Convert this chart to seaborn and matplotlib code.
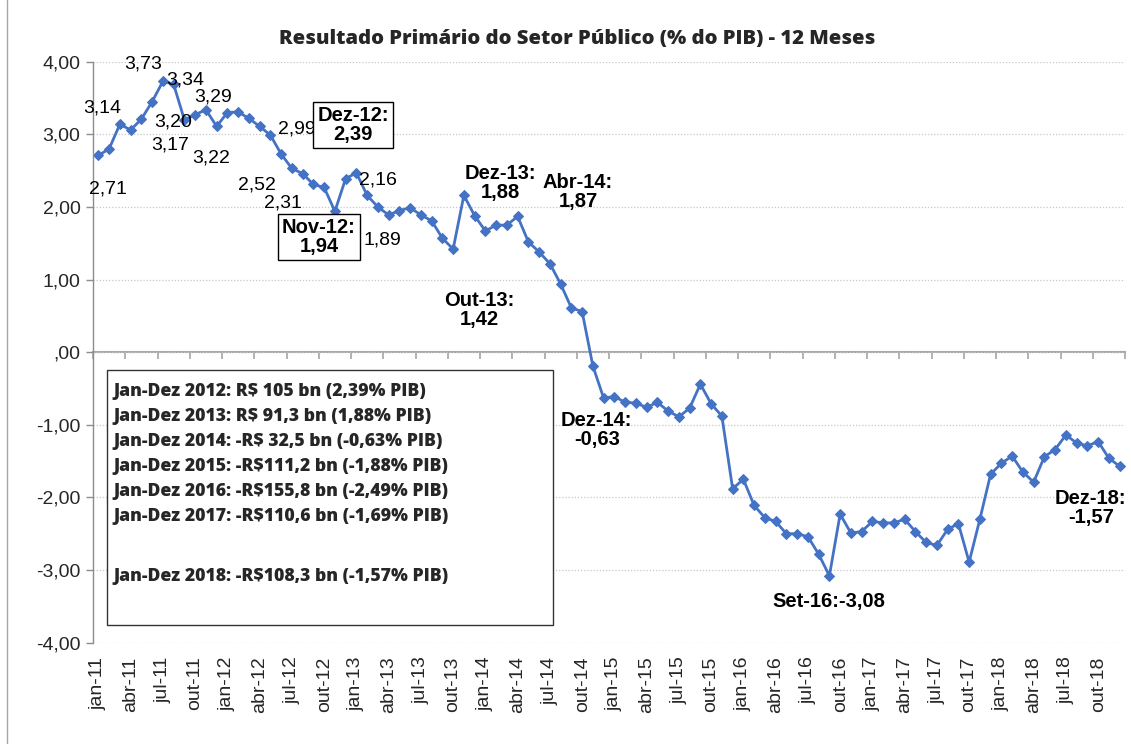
import numpy as np
import pandas as pd
import seaborn as sns
import matplotlib.pyplot as plt
from matplotlib.patches import Rectangle
from matplotlib.lines import Line2D

# ---------------- dados (% do PIB, 12 meses) ----------------
meses = ['jan', 'fev', 'mar', 'abr', 'mai', 'jun', 'jul', 'ago', 'set', 'out', 'nov', 'dez']
anos = ['11', '12', '13', '14', '15', '16', '17', '18']

res_2011 = [2.71, 2.80, 3.14, 3.06, 3.21, 3.45, 3.73, 3.69, 3.20, 3.27, 3.34, 3.11]
res_2012 = [3.30, 3.31, 3.22, 3.11, 2.99, 2.73, 2.53, 2.46, 2.31, 2.27, 1.94, 2.39]
res_2013 = [2.47, 2.16, 2.00, 1.89, 1.95, 1.99, 1.89, 1.81, 1.57, 1.42, 2.16, 1.88]
res_2014 = [1.67, 1.75, 1.75, 1.87, 1.52, 1.38, 1.22, 0.94, 0.61, 0.56, -0.19, -0.63]
res_2015 = [-0.61, -0.69, -0.70, -0.76, -0.69, -0.81, -0.89, -0.77, -0.44, -0.71, -0.88, -1.88]
res_2016 = [-1.75, -2.11, -2.28, -2.33, -2.50, -2.50, -2.54, -2.78, -3.08, -2.23, -2.49, -2.47]
res_2017 = [-2.33, -2.35, -2.35, -2.30, -2.47, -2.62, -2.66, -2.44, -2.36, -2.89, -2.30, -1.68]
res_2018 = [-1.53, -1.43, -1.65, -1.79, -1.44, -1.34, -1.14, -1.25, -1.29, -1.23, -1.46, -1.57]

serie = res_2011 + res_2012 + res_2013 + res_2014 + res_2015 + res_2016 + res_2017 + res_2018
rotulos = [f'{m}-{a}' for a in anos for m in meses]

df = pd.DataFrame({'pos': np.arange(len(serie)), 'mes': rotulos, 'valor': serie})

# rótulos de dados (texto, x, y)
rotulos_normais = [
    ('3,73', 4.18, 3.97), ('3,34', 8.06, 3.75), ('3,14', 0.38, 3.36),
    ('3,20', 6.97, 3.17), ('3,17', 6.66, 2.85), ('3,29', 10.63, 3.52),
    ('3,22', 10.45, 2.68), ('2,99', 18.5, 3.08), ('2,52', 14.73, 2.30),
    ('2,31', 17.15, 2.05), ('2,71', 0.9, 2.25), ('2,16', 26.01, 2.37),
    ('1,89', 26.45, 1.54),
]
rotulos_negrito = [
    ('Dez-13:\n1,88', 37.36, 2.33), ('Abr-14:\n1,87', 44.62, 2.21),
    ('Out-13:\n1,42', 35.4, 0.58), ('Dez-14:\n-0,63', 46.36, -1.07),
    ('Set-16:-3,08', 67.97, -3.43), ('Dez-18:\n-1,57', 92.31, -2.15),
]
rotulos_caixa = [('Nov-12:\n1,94', 20.52, 1.59), ('Dez-12:\n2,39', 23.69, 3.13)]

caixa_linhas = [
    'Jan-Dez 2012: R$ 105 bn (2,39% PIB)',
    'Jan-Dez 2013: R$ 91,3 bn (1,88% PIB)',
    'Jan-Dez 2014: -R$ 32,5 bn (-0,63% PIB)',
    'Jan-Dez 2015: -R$111,2 bn (-1,88% PIB)',
    'Jan-Dez 2016: -R$155,8 bn (-2,49% PIB)',
    'Jan-Dez 2017: -R$110,6 bn (-1,69% PIB)',
    'Jan-Dez 2018: -R$108,3 bn (-1,57% PIB)',
]
caixa_y = [0.4329, 0.3893, 0.3460, 0.3029, 0.2599, 0.2169, 0.1136]

# ---------------- figura ----------------
sns.set_theme(style='white')
plt.rcParams['font.family'] = ['Liberation Sans', 'DejaVu Sans']

fig, ax = plt.subplots(figsize=(11.31, 7.44), dpi=100)
fig.subplots_adjust(left=93 / 1131, right=1125 / 1131, bottom=0.1362, top=0.917)

azul = '#4472C4'
sns.lineplot(data=df, x='pos', y='valor', ax=ax, color=azul, linewidth=2,
             marker='D', markersize=5, markeredgecolor=azul, markerfacecolor=azul)

ax.set_xlim(-0.5, len(serie) - 0.5)
ax.set_ylim(-4, 4)
ax.set_xlabel('')
ax.set_ylabel('')

# eixo y
yt = np.arange(-4, 5, 1)
ax.set_yticks(yt)
ax.set_yticklabels([',00' if v == 0 else f'{v:.2f}'.replace('.', ',') for v in yt], fontsize=14)
ax.yaxis.grid(True, linestyle=(0, (1, 1.5)), color='#c6c6c6', linewidth=0.9)
ax.xaxis.grid(False)
ax.tick_params(axis='y', length=5, color='#8c8c8c', width=1, pad=4, left=True)

# eixo x (rótulos embaixo, traços no zero)
ax.set_xticks(df['pos'][::3])
ax.set_xticklabels(df['mes'][::3], rotation=90, fontsize=14)
ax.tick_params(axis='x', length=0, pad=10)

for s in ['top', 'right', 'bottom']:
    ax.spines[s].set_visible(False)
ax.spines['left'].set_color('#8c8c8c')
ax.spines['left'].set_linewidth(1)

sec = ax.secondary_xaxis(0, transform=ax.transData)
sec.set_xticks(np.arange(-0.5, len(serie), 3))
sec.tick_params(axis='x', direction='out', length=5, width=1.2, color='#a6a6a6', labelbottom=False, labeltop=False)
sec.spines['bottom'].set_color('#a6a6a6')
sec.spines['bottom'].set_linewidth(1.5)
sec.spines['top'].set_color('#a6a6a6')
sec.spines['top'].set_linewidth(1.5)

# título
fig.text(577 / 1131, 0.9476, 'Resultado Primário do Setor Público (% do PIB) - 12 Meses',
         ha='center', va='center', fontsize=14.6, fontweight=800, family=['Open Sans', 'DejaVu Sans'])

# rótulos
for txt, x, y in rotulos_normais:
    ax.text(x, y, txt, ha='center', va='center', fontsize=14, color='black')
for txt, x, y in rotulos_negrito:
    ax.text(x, y, txt, ha='center', va='center', fontsize=14.5, fontweight='bold',
            color='black', linespacing=1.0)
for txt, x, y in rotulos_caixa:
    ax.text(x, y, txt, ha='center', va='center', fontsize=14.5, fontweight='bold',
            color='black', linespacing=1.0,
            bbox=dict(boxstyle='square,pad=0.2', facecolor='white', edgecolor='black', linewidth=1))

# caixa com totais anuais
ax.add_patch(Rectangle((0.0133, 0.0305), 0.4324, 0.4389, transform=ax.transAxes,
                       facecolor='white', edgecolor='#333333', linewidth=1, zorder=3))
for txt, y in zip(caixa_linhas, caixa_y):
    ax.text(0.0197, y, txt, transform=ax.transAxes, ha='left', va='center', fontsize=12.7,
            fontweight=800, family=['Open Sans', 'DejaVu Sans'], zorder=4)

# borda do gráfico
fig.add_artist(Line2D([7 / 1131, 7 / 1131], [0, 1], color='#a6a6a6', linewidth=1))

fig.savefig('out.png', dpi=100)
